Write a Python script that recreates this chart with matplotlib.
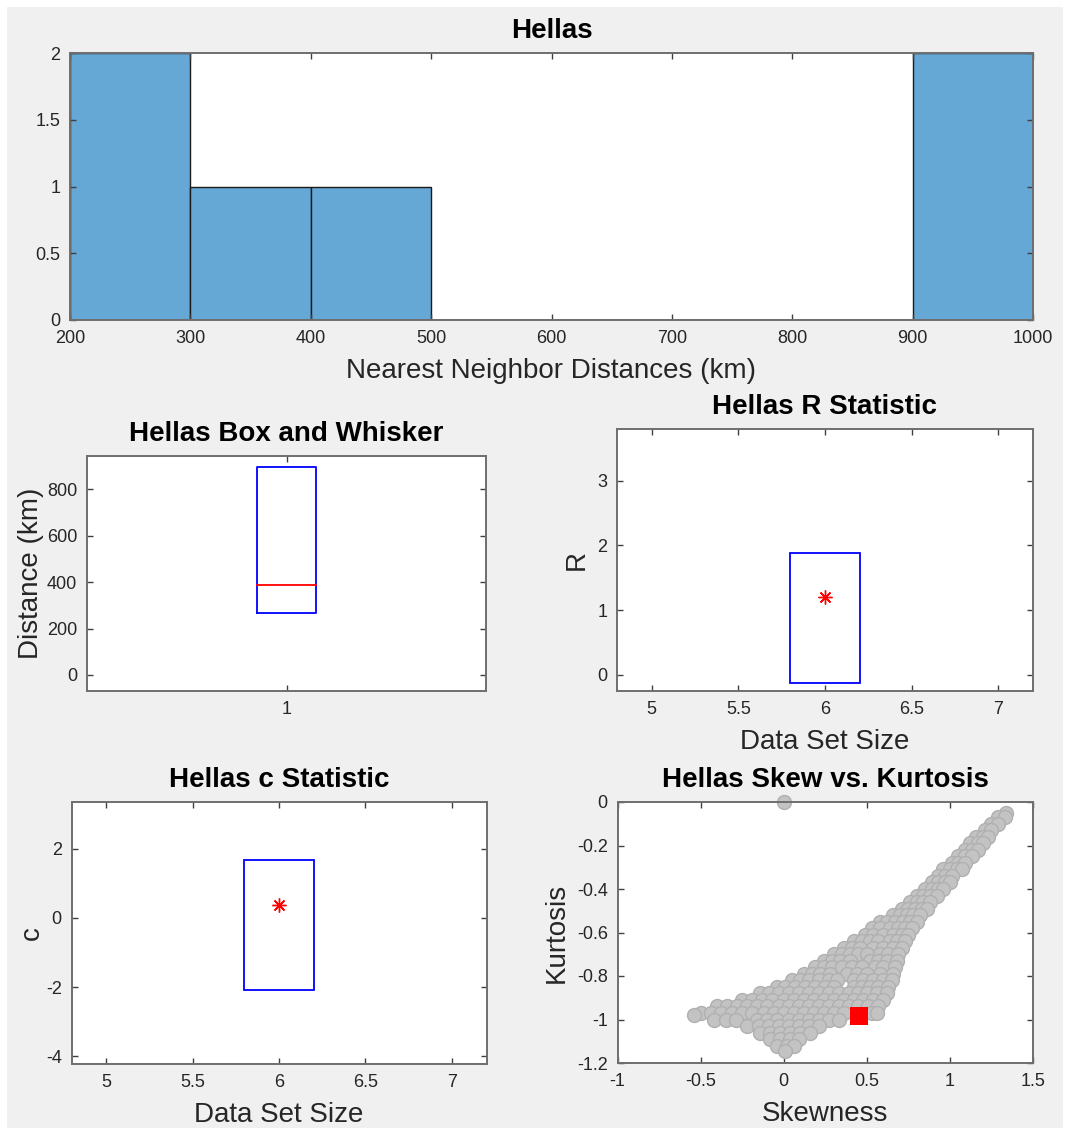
import matplotlib
matplotlib.use("Agg")
import matplotlib.pyplot as plt
from matplotlib.patches import Rectangle
import numpy as np

W, H = 1070, 1135

# histogram of nearest neighbour distances
bin_edges = [200, 300, 400, 500, 600, 700, 800, 900, 1000]
bin_counts = [2, 1, 1, 0, 0, 0, 0, 2]

# box and whisker
box_q1 = 266
box_median = 386
box_q3 = 897

# R statistic
r_size = 6
r_value = 1.21
r_low, r_high = -0.12, 1.89

# c statistic
c_size = 6
c_value = 0.385
c_low, c_high = -2.1, 1.69

# skew vs kurtosis cloud, read row by row (kurtosis level -> skewness values)
kurt_levels = [-0.05, -0.07, -0.10, -0.13, -0.16, -0.19, -0.22, -0.25, -0.28,
               -0.31, -0.34, -0.37, -0.40, -0.43, -0.46, -0.49, -0.52, -0.55,
               -0.58, -0.61, -0.64, -0.67, -0.70, -0.73, -0.76, -0.79, -0.82,
               -0.85, -0.88, -0.91, -0.94, -0.97, -0.98, -1.00, -1.03, -1.06,
               -1.09, -1.12, -1.145, 0.0]
skew_rows = [
    [1.34],
    [1.29, 1.33],
    [1.25, 1.29],
    [1.21, 1.25],
    [1.16, 1.20, 1.23],
    [1.12, 1.17, 1.20],
    [1.09, 1.13, 1.17],
    [1.05, 1.09, 1.13],
    [1.01, 1.05, 1.09],
    [0.96, 1.00, 1.04, 1.07],
    [0.93, 0.97, 1.01],
    [0.89, 0.93, 0.97, 1.00],
    [0.85, 0.89, 0.93, 0.96],
    [0.80, 0.84, 0.88, 0.92],
    [0.76, 0.80, 0.84, 0.88],
    [0.71, 0.75, 0.79, 0.83, 0.86],
    [0.66, 0.70, 0.74, 0.78, 0.82],
    [0.58, 0.62, 0.67, 0.72, 0.76, 0.80],
    [0.53, 0.58, 0.64, 0.69, 0.73, 0.77],
    [0.49, 0.54, 0.60, 0.66, 0.71, 0.75],
    [0.42, 0.47, 0.52, 0.57, 0.64, 0.68, 0.73],
    [0.36, 0.41, 0.46, 0.54, 0.60, 0.66, 0.71],
    [0.30, 0.35, 0.40, 0.45, 0.50, 0.58, 0.63, 0.69],
    [0.24, 0.29, 0.34, 0.40, 0.52, 0.57, 0.62, 0.68],
    [0.19, 0.24, 0.29, 0.35, 0.41, 0.47, 0.55, 0.60, 0.67],
    [0.12, 0.17, 0.22, 0.28, 0.38, 0.44, 0.50, 0.58, 0.66],
    [0.05, 0.10, 0.15, 0.21, 0.27, 0.32, 0.42, 0.48, 0.54, 0.60, 0.65],
    [-0.04, 0.01, 0.07, 0.13, 0.19, 0.25, 0.30, 0.42, 0.47, 0.52, 0.57, 0.63],
    [-0.14, -0.09, -0.03, 0.03, 0.09, 0.15, 0.21, 0.27, 0.33, 0.39, 0.45,
     0.50, 0.56, 0.62],
    [-0.25, -0.19, -0.13, -0.07, 0.0, 0.06, 0.12, 0.18, 0.24, 0.30, 0.36,
     0.42, 0.48, 0.54, 0.60],
    [-0.40, -0.34, -0.28, -0.22, -0.16, -0.10, -0.03, 0.03, 0.09, 0.15, 0.21,
     0.27, 0.33, 0.39, 0.45, 0.51, 0.57],
    [-0.50, -0.44, -0.38, -0.31, -0.25, -0.19, -0.12, -0.06, 0.0, 0.06, 0.12,
     0.18, 0.24, 0.30, 0.36, 0.53, 0.56],
    [-0.54],
    [-0.42, -0.35, -0.29, -0.16, -0.10, -0.04, 0.03, 0.09, 0.15, 0.21, 0.27,
     0.33],
    [-0.22, -0.15, -0.09, -0.03, 0.03, 0.09, 0.15, 0.21],
    [-0.14, -0.08, -0.02, 0.04, 0.10, 0.16],
    [-0.08, -0.02, 0.04, 0.09],
    [-0.04, 0.02, 0.06],
    [0.01],
    [0.0],
]
obs_skew = 0.454
obs_kurt = -0.982

plt.rcParams['font.family'] = ['Liberation Sans', 'DejaVu Sans']
plt.rcParams['axes.unicode_minus'] = False

GRAY_BG = '#f0f0f0'
TXT = '#262626'
SPINE = '#6e6e6e'
LABEL_FS = 20
TICK_FS = 13


def pos(l, t, r, b):
    return [l / W, 1 - b / H, (r - l) / W, (b - t) / H]


def style(ax):
    for s in ax.spines.values():
        s.set_color(SPINE)
        s.set_linewidth(1.4)
    ax.tick_params(direction='in', top=True, right=True, length=4,
                   width=1, color='#404040', labelsize=TICK_FS, labelcolor=TXT, pad=7)


def title(ax, txt):
    ax.set_title(txt, fontsize=20, fontweight='bold', pad=11)


fig = plt.figure(figsize=(W / 100, H / 100), dpi=100, facecolor='white')
fig.patches.append(Rectangle((7 / W, 1 - 1128 / H), 1056 / W, 1121 / H,
                             transform=fig.transFigure, facecolor=GRAY_BG,
                             edgecolor='none', zorder=-10))

# --- histogram
ax = fig.add_axes(pos(70, 53, 1033, 320))
ax.bar(bin_edges[:-1], bin_counts, width=np.diff(bin_edges), align='edge',
       color='#65a8d6', edgecolor='#1a1a1a', linewidth=1)
ax.set_xlim(200, 1000)
ax.set_ylim(0, 2)
ax.set_xticks(range(200, 1001, 100))
ax.set_yticks([0, 0.5, 1, 1.5, 2])
ax.set_yticklabels(['0', '0.5', '1', '1.5', '2'])
ax.set_xlabel('Nearest Neighbor Distances (km)', fontsize=LABEL_FS, color=TXT, labelpad=8)
style(ax)
title(ax, 'Hellas')

# --- box and whisker
ax = fig.add_axes(pos(87, 456, 486, 691))
hw = 0.075
ax.plot([1 - hw, 1 + hw, 1 + hw, 1 - hw, 1 - hw],
        [box_q1, box_q1, box_q3, box_q3, box_q1], color='#0000ff', lw=1.3)
ax.plot([1 - hw, 1 + hw], [box_median, box_median], color='#ff0000', lw=1.3)
ax.set_xlim(0.5, 1.5)
ax.set_ylim(-69, 943)
ax.set_xticks([1])
ax.set_yticks([0, 200, 400, 600, 800])
ax.set_ylabel('Distance (km)', fontsize=LABEL_FS, color=TXT, labelpad=2)
style(ax)
title(ax, 'Hellas Box and Whisker')

# --- R statistic
ax = fig.add_axes(pos(617, 429, 1033, 691))
ax.add_patch(Rectangle((r_size - 0.2, r_low), 0.4, r_high - r_low,
                       fill=False, edgecolor='#0000ff', lw=1.3))
ax.plot([r_size], [r_value], marker=(8, 2, 0), color='#ff0000', ms=10, mew=1)
ax.set_xlim(4.8, 7.2)
ax.set_ylim(-0.25, 3.8)
ax.set_xticks([5, 5.5, 6, 6.5, 7])
ax.set_xticklabels(['5', '5.5', '6', '6.5', '7'])
ax.set_yticks([0, 1, 2, 3])
ax.set_xlabel('Data Set Size', fontsize=LABEL_FS, color=TXT, labelpad=8)
ax.set_ylabel('R', fontsize=LABEL_FS, color=TXT, labelpad=5)
style(ax)
title(ax, 'Hellas R Statistic')

# --- c statistic
ax = fig.add_axes(pos(71.5, 802, 486.5, 1064))
ax.add_patch(Rectangle((c_size - 0.2, c_low), 0.4, c_high - c_low,
                       fill=False, edgecolor='#0000ff', lw=1.3))
ax.plot([c_size], [c_value], marker=(8, 2, 0), color='#ff0000', ms=10, mew=1)
ax.set_xlim(4.8, 7.2)
ax.set_ylim(-4.23, 3.36)
ax.set_xticks([5, 5.5, 6, 6.5, 7])
ax.set_xticklabels(['5', '5.5', '6', '6.5', '7'])
ax.set_yticks([-4, -2, 0, 2])
ax.set_xlabel('Data Set Size', fontsize=LABEL_FS, color=TXT, labelpad=8)
ax.set_ylabel('c', fontsize=LABEL_FS, color=TXT, labelpad=1)
style(ax)
title(ax, 'Hellas c Statistic')

# --- skew vs kurtosis
ax = fig.add_axes(pos(617.5, 802, 1033, 1063))
sx, sy = [], []
for k, row in zip(kurt_levels, skew_rows):
    sx.extend(row)
    sy.extend([k] * len(row))
ax.plot(sx, sy, 'o', mfc='#c3c3c3', mec='#b0b0b0', ms=10, mew=1,
        clip_on=False, zorder=2)
ax.plot([obs_skew], [obs_kurt], 's', color='#ff0000', ms=13, mew=0, zorder=3)
ax.set_xlim(-1, 1.5)
ax.set_ylim(-1.2, 0)
ax.set_xticks([-1, -0.5, 0, 0.5, 1, 1.5])
ax.set_xticklabels(['-1', '-0.5', '0', '0.5', '1', '1.5'])
ax.set_yticks([-1.2, -1, -0.8, -0.6, -0.4, -0.2, 0])
ax.set_yticklabels(['-1.2', '-1', '-0.8', '-0.6', '-0.4', '-0.2', '0'])
ax.set_xlabel('Skewness', fontsize=LABEL_FS, color=TXT, labelpad=8)
ax.set_ylabel('Kurtosis', fontsize=LABEL_FS, color=TXT, labelpad=5)
style(ax)
title(ax, 'Hellas Skew vs. Kurtosis')

fig.savefig('out.png', dpi=100, facecolor='white')
